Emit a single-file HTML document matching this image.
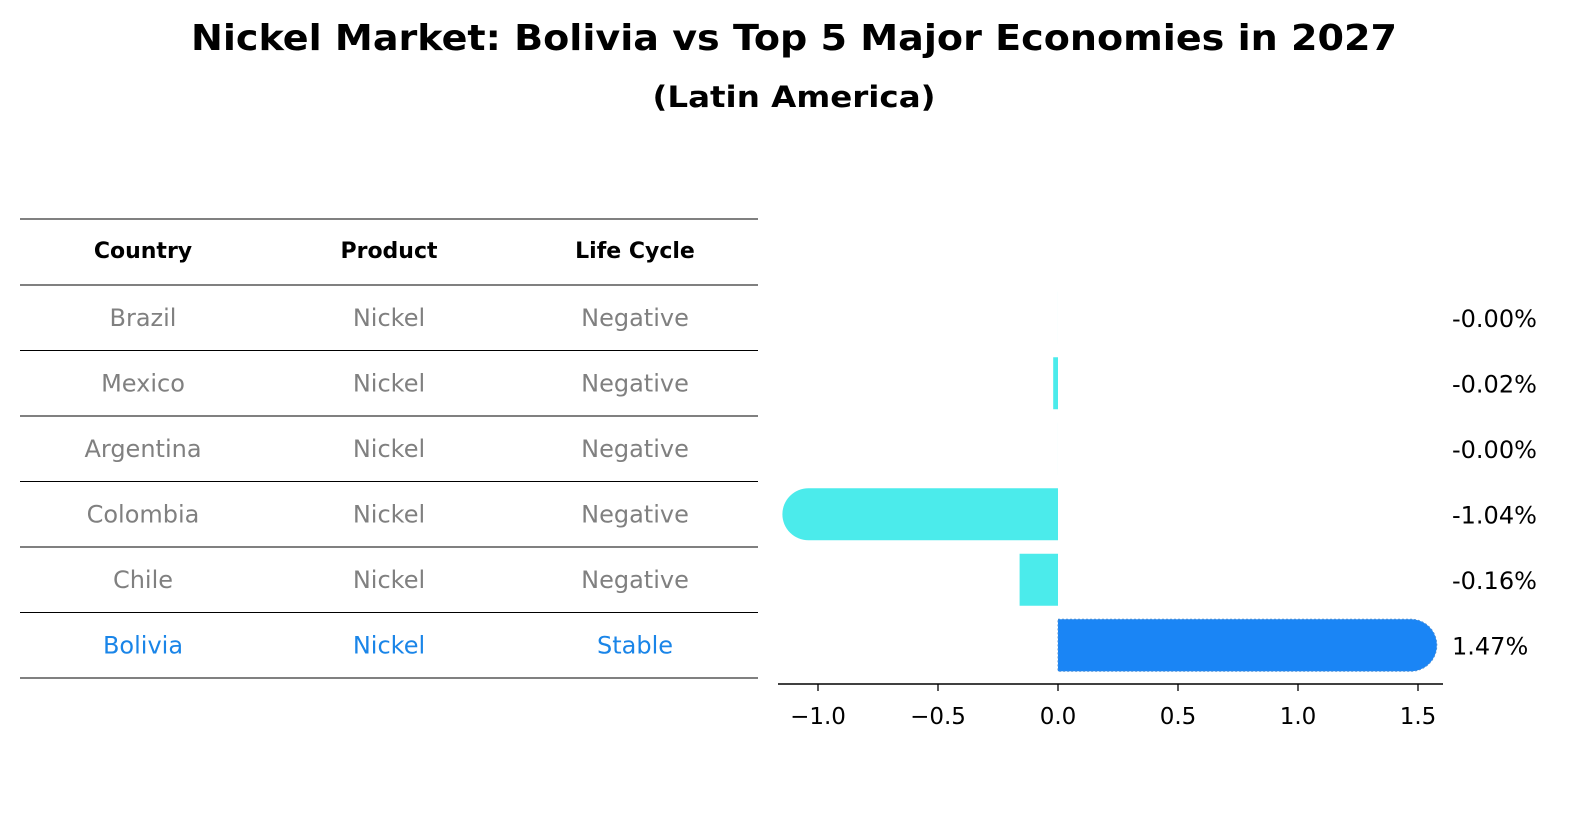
<!DOCTYPE html>
<html><head><meta charset="utf-8"><style>
body{margin:0;background:#fff;font-family:"Liberation Sans","DejaVu Sans",sans-serif;}
svg text{font-family:"DejaVu Sans","Liberation Sans",sans-serif;}
</style></head><body>
<svg width="1596" height="823" xmlns="http://www.w3.org/2000/svg" id="chart">
<rect width="1596" height="823" fill="#fff"/>
<text x="794" y="50" text-anchor="middle" font-size="36" font-weight="bold" textLength="1206" lengthAdjust="spacingAndGlyphs">Nickel Market: Bolivia vs Top 5 Major Economies in 2027</text>
<text x="794" y="107" text-anchor="middle" font-size="29" font-weight="bold" textLength="283" lengthAdjust="spacingAndGlyphs">(Latin America)</text>
<g id="table"></g>
<g id="bars"></g>
<g id="axis"></g>
</svg>
<script>
const countries=["Brazil","Mexico","Argentina","Colombia","Chile","Bolivia"];
const products=["Nickel","Nickel","Nickel","Nickel","Nickel","Nickel"];
const lifecycle=["Negative","Negative","Negative","Negative","Negative","Stable"];
const values=[-0.0001,-0.02,-0.0001,-1.04,-0.16,1.47];
const valueLabels=["-0.00%","-0.02%","-0.00%","-1.04%","-0.16%","1.47%"];
const ticks=[-1.0,-0.5,0.0,0.5,1.0,1.5];
const tickLabels=["\u22121.0","\u22120.5","0.0","0.5","1.0","1.5"];
const NS="http://www.w3.org/2000/svg";
const x0=1058,ppu=240;
function xs(v){return x0+v*ppu;}
const rowTop=285,rowH=65.5;
function yc(i){return rowTop+rowH*i+rowH/2;}
function mk(tag,attrs,parent){const e=document.createElementNS(NS,tag);for(const k in attrs)e.setAttribute(k,attrs[k]);parent.appendChild(e);return e;}
const tbl=document.getElementById('table');
const cols=[143,389,635];
for(let k=0;k<=countries.length+1;k++){
  const y=k==0?219:rowTop+rowH*(k-1);
  const l=mk('line',{x1:20,x2:758,y1:y,y2:y,stroke:'#000','stroke-width':1},tbl);
  
  
}
["Country","Product","Life Cycle"].forEach((h,j)=>{
  const t=mk('text',{x:cols[j],y:258,'text-anchor':'middle','font-size':22,'font-weight':'bold'},tbl);
  t.textContent=h;
  
  
});
countries.forEach((c,i)=>{
  const col=c==="Bolivia"?"#1a85e8":"#808080";
  [c,products[i],lifecycle[i]].forEach((v,j)=>{
    const t=mk('text',{x:cols[j],y:yc(i)+8,'text-anchor':'middle','font-size':24,fill:col},tbl);
    t.textContent=v;
    
    
  });
});
const bars=document.getElementById('bars');
const bh=52,r=26;
values.forEach((v,i)=>{
  const y=yc(i)-bh/2;
  const isB=countries[i]==="Bolivia";
  const fill=isB?"#1a85f5":"#4bebeb";
  let p;
  if(Math.abs(v)>0.5){
    const xe=xs(v);
    if(v>0) p=mk('path',{d:`M${x0},${y}H${xe}A${r},${r} 0 0 1 ${xe} ${y+bh}H${x0}Z`,fill:fill},bars);
    else p=mk('path',{d:`M${x0},${y}H${xe}A${r},${r} 0 0 0 ${xe} ${y+bh}H${x0}Z`,fill:fill},bars);
  } else {
    const a=xs(v);let w=Math.abs(a-x0);
    if(w>=1) w=Math.max(w,4);
    p=mk('rect',{x:x0-(v<0?w:0),y:y,width:w,height:bh,fill:fill},bars);
  }
  if(isB){p.setAttribute('stroke','#4b8fd6');p.setAttribute('stroke-dasharray','2,2');}
  
  
  const t=mk('text',{x:1452,y:yc(i)+9,'font-size':24},bars);
  t.textContent=valueLabels[i];
  
  
});
const ax=document.getElementById('axis');
const al=mk('line',{x1:778,x2:1443,y1:684,y2:684,stroke:'#000','stroke-width':1.5},ax);


ticks.forEach((t,i)=>{
  const x=xs(t);
  const l=mk('line',{x1:x,x2:x,y1:684,y2:691,stroke:'#000','stroke-width':1.3},ax);
  
  
  const tx=mk('text',{x:x,y:724,'text-anchor':'middle','font-size':23},ax);
  tx.textContent=tickLabels[i];
  
  
});
</script>
</body></html>
